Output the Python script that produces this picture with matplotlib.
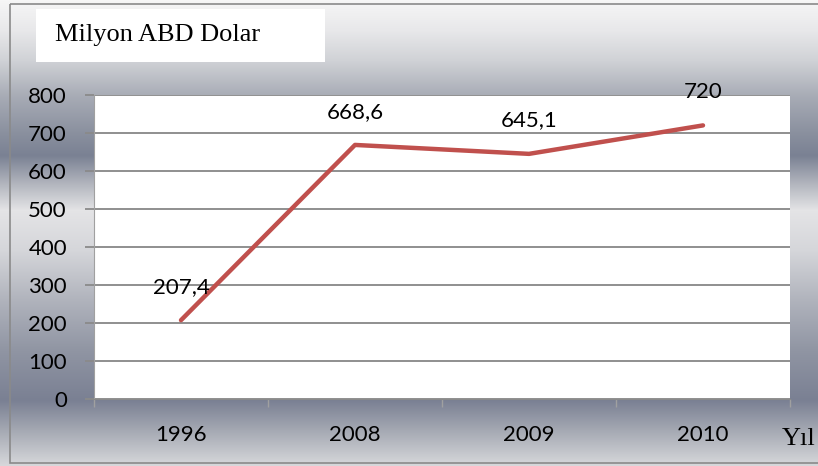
import numpy as np
import matplotlib.pyplot as plt
from matplotlib.patches import Rectangle

# values
years = ['1996', '2008', '2009', '2010']
values = [207.4, 668.6, 645.1, 720]
value_labels = ['207,4', '668,6', '645,1', '720']
yticks = [0, 100, 200, 300, 400, 500, 600, 700, 800]

W, H = 818, 466
fig = plt.figure(figsize=(W / 100, H / 100), dpi=100)

# background gradient (Excel style banded gray)
bg = fig.add_axes([0, 0, 1, 1])
stops_y = [0, 30, 60, 95, 130, 155, 185, 210, 250, 300, 350, 400, 430, 466]
stops_c = ['#f6f6f6', '#e8e8ea', '#d0d2d6', '#a8acb6', '#8c92a0', '#7a8193',
           '#b5b8c0', '#e4e4e6', '#d5d6da', '#b0b3bc', '#9095a3', '#7a8093',
           '#a5a9b3', '#d8d9dc']
rgb = np.array([[int(c[i:i + 2], 16) / 255 for i in (1, 3, 5)] for c in stops_c])
ys = np.arange(H)
grad = np.stack([np.interp(ys, stops_y, rgb[:, k]) for k in range(3)], axis=1)
img = np.repeat(grad[:, None, :], 4, axis=1)
bg.imshow(img, aspect='auto', extent=[0, W, H, 0])
bg.set_xlim(0, W)
bg.set_ylim(H, 0)
bg.axis('off')

# outer frame and title box
bg.add_patch(Rectangle((10, 4), W, 459, fill=False, edgecolor='#8a8a8a', lw=1.2))
bg.add_patch(Rectangle((36, 9), 289, 53, facecolor='white', edgecolor='none'))
bg.text(55, 35, 'Milyon ABD Dolar', family='Liberation Serif', fontsize=19,
        va='center', ha='left', color='black')
bg.text(782, 439, 'Yıl', family='Liberation Serif', fontsize=19,
        va='center', ha='left', color='black')

# plot area
ax = fig.add_axes([94 / W, (H - 399) / H, (790 - 94) / W, (399 - 95) / H])
ax.set_facecolor('white')
x = np.arange(len(years))
ax.plot(x, values, color='#c0504d', lw=3.2, solid_capstyle='round', zorder=3)

for xi, v, lab in zip(x, values, value_labels):
    ax.annotate(lab, (xi, v), xytext=(0, 24), textcoords='offset points',
                ha='center', va='center', family='Lato', fontsize=16,
                annotation_clip=False, zorder=4)

ax.set_xlim(-0.5, 3.5)
ax.set_ylim(0, 800)
ax.set_yticks(yticks)
ax.set_yticklabels([str(t) for t in yticks])
ax.yaxis.grid(True, color='#878787', lw=1.3)
ax.set_axisbelow(True)

ax.set_xticks(x)
ax.set_xticklabels(years)
ax.set_xticks(np.arange(-0.5, 4, 1), minor=True)
ax.tick_params(axis='x', which='major', length=0, pad=19)
ax.tick_params(axis='x', which='minor', length=6, color='#a0a0a0', width=1)
ax.tick_params(axis='y', length=6.5, color='#8a8a8a', width=1.3, pad=13)
for lab in ax.get_xticklabels() + ax.get_yticklabels():
    lab.set_family('Lato')
    lab.set_fontsize(16)

for s in ['top', 'right']:
    ax.spines[s].set_visible(False)
ax.spines['left'].set_color('#a0a0a0')
ax.spines['bottom'].set_color('#8a8a8a')

fig.savefig('out.png', dpi=100)
